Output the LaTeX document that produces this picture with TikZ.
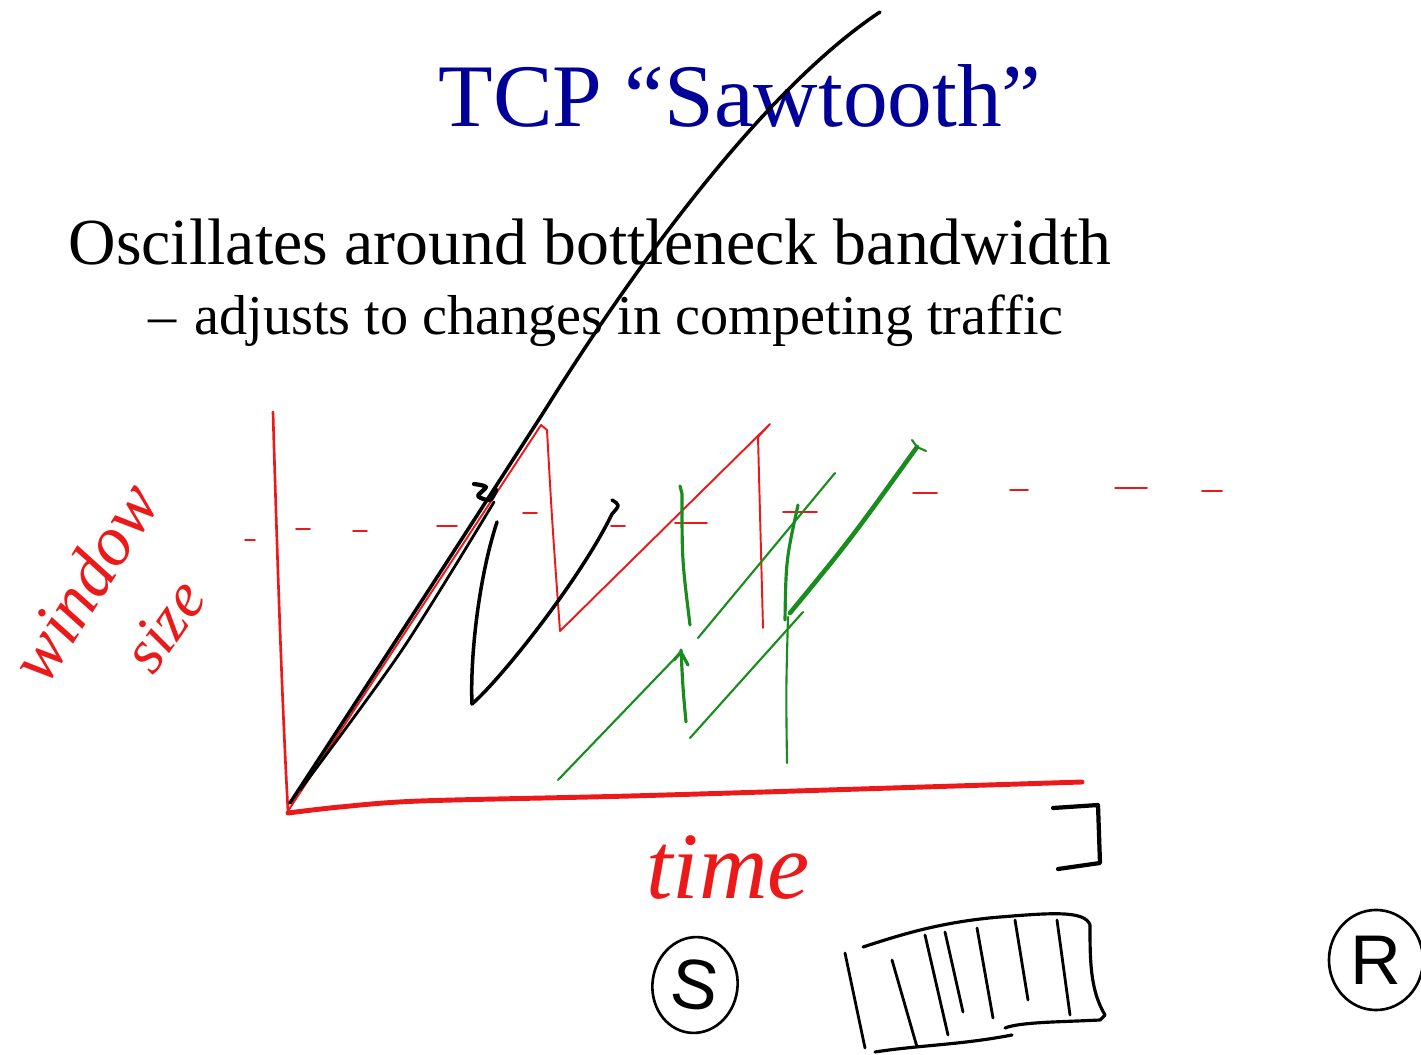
\documentclass[tikz,border=0pt]{standalone}
\usepackage{fontspec}
\setmainfont{Liberation Serif}
\setsansfont{Liberation Sans}
\usetikzlibrary{shapes.geometric, positioning, calc}
\definecolor{slideblue}{RGB}{0,0,153}
\definecolor{penred}{RGB}{235,25,25}
\definecolor{pengreen}{RGB}{25,140,30}

\begin{document}
\begin{tikzpicture}[
      x=0.01cm, y=-0.01cm,
      heading/.style = {font=\fontsize{25.4}{30}\selectfont, text=slideblue,
                        inner sep=0pt, anchor=base},
      bulletline/.style = {font=\fontsize{18.7}{22}\selectfont, inner sep=0pt,
                        anchor=base west},
      subline/.style = {font=\fontsize{16}{19}\selectfont, inner sep=0pt,
                        anchor=base west},
      scrawl/.style  = {text=penred, inner sep=0pt},
      ring/.style    = {draw, ellipse, line width=0.75pt, inner sep=0pt,
                        font=\sffamily\fontsize{20}{24}\selectfont},
      axisline/.style= {penred, line width=0.75pt, line cap=round},
      redpen/.style  = {penred, line width=0.55pt, line cap=round, line join=round},
      blackpen/.style= {black, line width=1pt, line cap=round, line join=round},
      greenpen/.style= {pengreen, line width=0.6pt, line cap=round, line join=round},
    ]
    \useasboundingbox (0,0) rectangle (1421,1055);

    \node[heading] (title) at (740,127) {TCP “Sawtooth”};
    \node[bulletline] (osc) at (68,265) {Oscillates around bottleneck bandwidth};
    \node[subline] (dash) at (148,335) {--};
    \node[subline, right=0.16cm of dash.base east, anchor=base west] (adjust)
      {adjusts to changes in competing traffic};

    % handwritten labels
    \node[scrawl, font=\itshape\fontsize{20}{24}\selectfont, rotate=58] (window) at (84,582) {window};
    \node[scrawl, font=\itshape\fontsize{18}{22}\selectfont, rotate=55] (size) at (164,626) {size};
    \node[scrawl, font=\itshape\fontsize{27}{32}\selectfont] (time) at (728,868) {time};

    % axes
    \coordinate (origin) at (288,811);
    \draw[axisline] (273,412) .. controls (279,620) and (284,740) .. (origin);
    \draw[axisline, line width=1.4pt] plot[smooth] coordinates
      {(288,813) (340,807) (420,801) (630,796) (860,789) (1082,782)};

    \foreach \x/\y/\l in {250/540/5, 303/529/7, 360/531/7, 447/526/10, 530/513/7,
                          618/526/7, 691/523/16, 800/512/17, 925/493/12,
                          1019/490/9, 1131/488/16, 1212/491/10}
      \draw[redpen] (\x-\l,\y) -- (\x+\l,\y);

    \draw[redpen] (origin) -- (541,425) -- (547,430) .. controls (552,520) .. (560,631)
      -- (770,424) -- (758,437) -- (763,628);

    % black
    \draw[blackpen] (290,803) .. controls (400,635) and (500,480) .. (545,410)
      .. controls (620,290) and (755,95) .. (880,12);
    \draw[blackpen, line width=0.8pt] plot[smooth] coordinates {(300,790) (402,650) (494,502)};
    \draw[blackpen, line width=1.2pt] plot[smooth] coordinates
      {(474,484) (486,487) (478,496) (490,500) (496,490)};
    \draw[blackpen] (497,522) .. controls (478,580) and (470,660) .. (472,704)
      .. controls (500,680) and (580,580) .. (612,514) .. controls (620,505) .. (612,500);

    % green
    \draw[greenpen] (558,780) -- (680,653);
    \draw[greenpen, line width=0.9pt] (674,660) -- (681,652) -- (688,665);
    \draw[greenpen, line width=0.9pt] (681,650) .. controls (683,690) .. (686,722);
    \draw[greenpen] (690,738) -- (803,612);
    \draw[greenpen] (788,617) .. controls (786,690) .. (787,763);
    \draw[greenpen, line width=0.9pt] (680,486) -- (682,494) .. controls (682,560) .. (690,625);
    \draw[greenpen] (698,638) -- (835,473);
    \draw[greenpen, line width=0.9pt] (798,505) .. controls (786,560) .. (785,620);
    \draw[greenpen, line width=1.3pt] (790,613) .. controls (850,540) .. (917,447);
    \draw[greenpen] (912,440) -- (917,447) -- (926,451);

    \draw[blackpen, line width=1.2pt] (1053,808) -- (1098,805) -- (1100,863) -- (1058,869);

    % queue
    \draw[blackpen, line width=0.9pt] (863,947) .. controls (900,935) and (940,922) .. (1000,917)
      .. controls (1050,913) and (1085,910) .. (1090,925)
      .. controls (1090,960) and (1090,990) .. (1105,1015) -- (1100,1020)
      .. controls (1060,1022) and (1020,1022) .. (1005,1028);
    \draw[blackpen, line width=0.9pt] (1012,1035) .. controls (960,1045) and (920,1045) .. (875,1052);
    \draw[blackpen, line width=0.8pt] (845,953) -- (865,1048);
    \foreach \xa/\ya/\xb/\yb in {892/960/917/1047, 925/935/948/1035, 945/932/963/1012,
                                 977/928/993/1018, 1015/920/1028/1000, 1057/920/1070/1015}
      \draw[blackpen, line width=0.8pt] (\xa,\ya) -- (\xb,\yb);

    \node[ring, minimum width=0.85cm, minimum height=0.96cm, rotate=-8] (sender) at (695,985) {S};
    \node[ring, minimum width=0.94cm, minimum height=1.0cm] (receiver) at (1376,960) {R};

  \end{tikzpicture}
\end{document}
